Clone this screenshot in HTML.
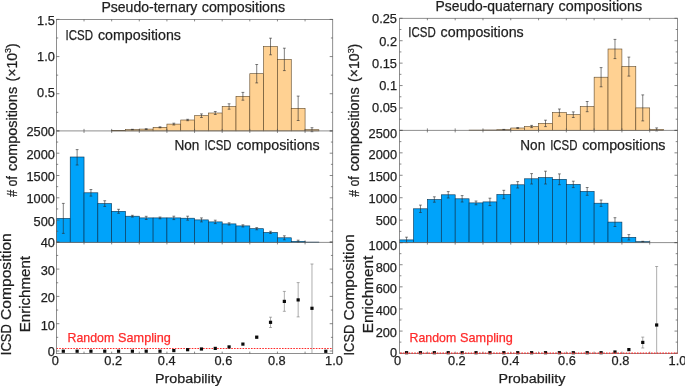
<!DOCTYPE html>
<html><head><meta charset="utf-8"><title>Composition probability histograms</title>
<style>
html,body{margin:0;padding:0;background:#fff;}
svg{display:block;font-family:"Liberation Sans",sans-serif;filter:blur(0.3px);}
</style></head><body>
<svg width="685" height="386" viewBox="0 0 685 386">
<rect width="685" height="386" fill="#fff"/>
<rect x="111.66" y="130.30" width="13.82" height="0.60" fill="#ffd192" stroke="#5c4628" stroke-width="0.6"/>
<rect x="125.47" y="129.60" width="13.82" height="1.30" fill="#ffd192" stroke="#5c4628" stroke-width="0.6"/>
<rect x="139.29" y="129.10" width="13.82" height="1.80" fill="#ffd192" stroke="#5c4628" stroke-width="0.6"/>
<rect x="153.11" y="127.30" width="13.82" height="3.60" fill="#ffd192" stroke="#5c4628" stroke-width="0.6"/>
<rect x="166.92" y="124.10" width="13.82" height="6.80" fill="#ffd192" stroke="#5c4628" stroke-width="0.6"/>
<rect x="180.74" y="120.00" width="13.82" height="10.90" fill="#ffd192" stroke="#5c4628" stroke-width="0.6"/>
<rect x="194.55" y="115.70" width="13.82" height="15.20" fill="#ffd192" stroke="#5c4628" stroke-width="0.6"/>
<rect x="208.37" y="113.00" width="13.82" height="17.90" fill="#ffd192" stroke="#5c4628" stroke-width="0.6"/>
<rect x="222.18" y="106.50" width="13.82" height="24.40" fill="#ffd192" stroke="#5c4628" stroke-width="0.6"/>
<rect x="236.00" y="96.30" width="13.82" height="34.60" fill="#ffd192" stroke="#5c4628" stroke-width="0.6"/>
<rect x="249.81" y="73.70" width="13.82" height="57.20" fill="#ffd192" stroke="#5c4628" stroke-width="0.6"/>
<rect x="263.62" y="46.50" width="13.82" height="84.40" fill="#ffd192" stroke="#5c4628" stroke-width="0.6"/>
<rect x="277.44" y="59.40" width="13.82" height="71.50" fill="#ffd192" stroke="#5c4628" stroke-width="0.6"/>
<rect x="291.25" y="108.30" width="13.82" height="22.60" fill="#ffd192" stroke="#5c4628" stroke-width="0.6"/>
<rect x="305.07" y="129.70" width="13.82" height="1.20" fill="#ffd192" stroke="#5c4628" stroke-width="0.6"/>
<line x1="132.38" y1="129.30" x2="132.38" y2="129.90" stroke="#2a2a2a" stroke-width="0.6" />
<line x1="130.98" y1="129.30" x2="133.78" y2="129.30" stroke="#2a2a2a" stroke-width="0.6" />
<line x1="130.98" y1="129.90" x2="133.78" y2="129.90" stroke="#2a2a2a" stroke-width="0.6" />
<line x1="146.20" y1="128.70" x2="146.20" y2="129.50" stroke="#2a2a2a" stroke-width="0.6" />
<line x1="144.80" y1="128.70" x2="147.60" y2="128.70" stroke="#2a2a2a" stroke-width="0.6" />
<line x1="144.80" y1="129.50" x2="147.60" y2="129.50" stroke="#2a2a2a" stroke-width="0.6" />
<line x1="160.01" y1="126.80" x2="160.01" y2="127.80" stroke="#2a2a2a" stroke-width="0.6" />
<line x1="158.61" y1="126.80" x2="161.41" y2="126.80" stroke="#2a2a2a" stroke-width="0.6" />
<line x1="158.61" y1="127.80" x2="161.41" y2="127.80" stroke="#2a2a2a" stroke-width="0.6" />
<line x1="173.83" y1="123.20" x2="173.83" y2="125.00" stroke="#2a2a2a" stroke-width="0.6" />
<line x1="172.43" y1="123.20" x2="175.23" y2="123.20" stroke="#2a2a2a" stroke-width="0.6" />
<line x1="172.43" y1="125.00" x2="175.23" y2="125.00" stroke="#2a2a2a" stroke-width="0.6" />
<line x1="187.64" y1="119.30" x2="187.64" y2="120.70" stroke="#2a2a2a" stroke-width="0.6" />
<line x1="186.24" y1="119.30" x2="189.04" y2="119.30" stroke="#2a2a2a" stroke-width="0.6" />
<line x1="186.24" y1="120.70" x2="189.04" y2="120.70" stroke="#2a2a2a" stroke-width="0.6" />
<line x1="201.46" y1="113.90" x2="201.46" y2="117.50" stroke="#2a2a2a" stroke-width="0.6" />
<line x1="200.06" y1="113.90" x2="202.86" y2="113.90" stroke="#2a2a2a" stroke-width="0.6" />
<line x1="200.06" y1="117.50" x2="202.86" y2="117.50" stroke="#2a2a2a" stroke-width="0.6" />
<line x1="215.27" y1="111.50" x2="215.27" y2="114.50" stroke="#2a2a2a" stroke-width="0.6" />
<line x1="213.87" y1="111.50" x2="216.67" y2="111.50" stroke="#2a2a2a" stroke-width="0.6" />
<line x1="213.87" y1="114.50" x2="216.67" y2="114.50" stroke="#2a2a2a" stroke-width="0.6" />
<line x1="229.09" y1="103.80" x2="229.09" y2="109.20" stroke="#2a2a2a" stroke-width="0.6" />
<line x1="227.69" y1="103.80" x2="230.49" y2="103.80" stroke="#2a2a2a" stroke-width="0.6" />
<line x1="227.69" y1="109.20" x2="230.49" y2="109.20" stroke="#2a2a2a" stroke-width="0.6" />
<line x1="242.90" y1="92.40" x2="242.90" y2="100.20" stroke="#2a2a2a" stroke-width="0.6" />
<line x1="241.50" y1="92.40" x2="244.30" y2="92.40" stroke="#2a2a2a" stroke-width="0.6" />
<line x1="241.50" y1="100.20" x2="244.30" y2="100.20" stroke="#2a2a2a" stroke-width="0.6" />
<line x1="256.72" y1="64.50" x2="256.72" y2="82.90" stroke="#2a2a2a" stroke-width="0.6" />
<line x1="255.32" y1="64.50" x2="258.12" y2="64.50" stroke="#2a2a2a" stroke-width="0.6" />
<line x1="255.32" y1="82.90" x2="258.12" y2="82.90" stroke="#2a2a2a" stroke-width="0.6" />
<line x1="270.53" y1="38.20" x2="270.53" y2="54.80" stroke="#2a2a2a" stroke-width="0.6" />
<line x1="269.13" y1="38.20" x2="271.93" y2="38.20" stroke="#2a2a2a" stroke-width="0.6" />
<line x1="269.13" y1="54.80" x2="271.93" y2="54.80" stroke="#2a2a2a" stroke-width="0.6" />
<line x1="284.35" y1="48.20" x2="284.35" y2="70.60" stroke="#2a2a2a" stroke-width="0.6" />
<line x1="282.95" y1="48.20" x2="285.75" y2="48.20" stroke="#2a2a2a" stroke-width="0.6" />
<line x1="282.95" y1="70.60" x2="285.75" y2="70.60" stroke="#2a2a2a" stroke-width="0.6" />
<line x1="298.16" y1="96.10" x2="298.16" y2="120.50" stroke="#2a2a2a" stroke-width="0.6" />
<line x1="296.76" y1="96.10" x2="299.56" y2="96.10" stroke="#2a2a2a" stroke-width="0.6" />
<line x1="296.76" y1="120.50" x2="299.56" y2="120.50" stroke="#2a2a2a" stroke-width="0.6" />
<line x1="311.98" y1="127.70" x2="311.98" y2="131.70" stroke="#2a2a2a" stroke-width="0.6" />
<line x1="310.58" y1="127.70" x2="313.38" y2="127.70" stroke="#2a2a2a" stroke-width="0.6" />
<line x1="310.58" y1="131.70" x2="313.38" y2="131.70" stroke="#2a2a2a" stroke-width="0.6" />
<rect x="56.40" y="218.40" width="13.82" height="24.00" fill="#00a3fa" stroke="#06304f" stroke-width="0.6"/>
<rect x="70.22" y="157.00" width="13.82" height="85.40" fill="#00a3fa" stroke="#06304f" stroke-width="0.6"/>
<rect x="84.03" y="192.80" width="13.82" height="49.60" fill="#00a3fa" stroke="#06304f" stroke-width="0.6"/>
<rect x="97.84" y="203.60" width="13.82" height="38.80" fill="#00a3fa" stroke="#06304f" stroke-width="0.6"/>
<rect x="111.66" y="211.30" width="13.82" height="31.10" fill="#00a3fa" stroke="#06304f" stroke-width="0.6"/>
<rect x="125.47" y="216.20" width="13.82" height="26.20" fill="#00a3fa" stroke="#06304f" stroke-width="0.6"/>
<rect x="139.29" y="217.90" width="13.82" height="24.50" fill="#00a3fa" stroke="#06304f" stroke-width="0.6"/>
<rect x="153.11" y="217.90" width="13.82" height="24.50" fill="#00a3fa" stroke="#06304f" stroke-width="0.6"/>
<rect x="166.92" y="217.90" width="13.82" height="24.50" fill="#00a3fa" stroke="#06304f" stroke-width="0.6"/>
<rect x="180.74" y="218.20" width="13.82" height="24.20" fill="#00a3fa" stroke="#06304f" stroke-width="0.6"/>
<rect x="194.55" y="219.90" width="13.82" height="22.50" fill="#00a3fa" stroke="#06304f" stroke-width="0.6"/>
<rect x="208.37" y="221.90" width="13.82" height="20.50" fill="#00a3fa" stroke="#06304f" stroke-width="0.6"/>
<rect x="222.18" y="223.90" width="13.82" height="18.50" fill="#00a3fa" stroke="#06304f" stroke-width="0.6"/>
<rect x="236.00" y="225.90" width="13.82" height="16.50" fill="#00a3fa" stroke="#06304f" stroke-width="0.6"/>
<rect x="249.81" y="228.70" width="13.82" height="13.70" fill="#00a3fa" stroke="#06304f" stroke-width="0.6"/>
<rect x="263.62" y="232.40" width="13.82" height="10.00" fill="#00a3fa" stroke="#06304f" stroke-width="0.6"/>
<rect x="277.44" y="237.80" width="13.82" height="4.60" fill="#00a3fa" stroke="#06304f" stroke-width="0.6"/>
<rect x="291.25" y="241.30" width="13.82" height="1.10" fill="#00a3fa" stroke="#06304f" stroke-width="0.6"/>
<rect x="305.07" y="242.10" width="13.82" height="0.30" fill="#00a3fa" stroke="#06304f" stroke-width="0.6"/>
<line x1="63.31" y1="203.40" x2="63.31" y2="233.40" stroke="#2a2a2a" stroke-width="0.6" />
<line x1="61.91" y1="203.40" x2="64.71" y2="203.40" stroke="#2a2a2a" stroke-width="0.6" />
<line x1="61.91" y1="233.40" x2="64.71" y2="233.40" stroke="#2a2a2a" stroke-width="0.6" />
<line x1="77.12" y1="149.60" x2="77.12" y2="165.00" stroke="#2a2a2a" stroke-width="0.6" />
<line x1="75.72" y1="149.60" x2="78.52" y2="149.60" stroke="#2a2a2a" stroke-width="0.6" />
<line x1="75.72" y1="165.00" x2="78.52" y2="165.00" stroke="#2a2a2a" stroke-width="0.6" />
<line x1="90.94" y1="189.50" x2="90.94" y2="196.10" stroke="#2a2a2a" stroke-width="0.6" />
<line x1="89.54" y1="189.50" x2="92.34" y2="189.50" stroke="#2a2a2a" stroke-width="0.6" />
<line x1="89.54" y1="196.10" x2="92.34" y2="196.10" stroke="#2a2a2a" stroke-width="0.6" />
<line x1="104.75" y1="200.75" x2="104.75" y2="206.45" stroke="#2a2a2a" stroke-width="0.6" />
<line x1="103.35" y1="200.75" x2="106.15" y2="200.75" stroke="#2a2a2a" stroke-width="0.6" />
<line x1="103.35" y1="206.45" x2="106.15" y2="206.45" stroke="#2a2a2a" stroke-width="0.6" />
<line x1="118.57" y1="209.30" x2="118.57" y2="213.30" stroke="#2a2a2a" stroke-width="0.6" />
<line x1="117.17" y1="209.30" x2="119.97" y2="209.30" stroke="#2a2a2a" stroke-width="0.6" />
<line x1="117.17" y1="213.30" x2="119.97" y2="213.30" stroke="#2a2a2a" stroke-width="0.6" />
<line x1="132.38" y1="215.30" x2="132.38" y2="217.10" stroke="#2a2a2a" stroke-width="0.6" />
<line x1="130.98" y1="215.30" x2="133.78" y2="215.30" stroke="#2a2a2a" stroke-width="0.6" />
<line x1="130.98" y1="217.10" x2="133.78" y2="217.10" stroke="#2a2a2a" stroke-width="0.6" />
<line x1="146.20" y1="216.30" x2="146.20" y2="219.50" stroke="#2a2a2a" stroke-width="0.6" />
<line x1="144.80" y1="216.30" x2="147.60" y2="216.30" stroke="#2a2a2a" stroke-width="0.6" />
<line x1="144.80" y1="219.50" x2="147.60" y2="219.50" stroke="#2a2a2a" stroke-width="0.6" />
<line x1="160.01" y1="217.00" x2="160.01" y2="218.80" stroke="#2a2a2a" stroke-width="0.6" />
<line x1="158.61" y1="217.00" x2="161.41" y2="217.00" stroke="#2a2a2a" stroke-width="0.6" />
<line x1="158.61" y1="218.80" x2="161.41" y2="218.80" stroke="#2a2a2a" stroke-width="0.6" />
<line x1="173.83" y1="216.20" x2="173.83" y2="219.60" stroke="#2a2a2a" stroke-width="0.6" />
<line x1="172.43" y1="216.20" x2="175.23" y2="216.20" stroke="#2a2a2a" stroke-width="0.6" />
<line x1="172.43" y1="219.60" x2="175.23" y2="219.60" stroke="#2a2a2a" stroke-width="0.6" />
<line x1="187.64" y1="216.20" x2="187.64" y2="220.20" stroke="#2a2a2a" stroke-width="0.6" />
<line x1="186.24" y1="216.20" x2="189.04" y2="216.20" stroke="#2a2a2a" stroke-width="0.6" />
<line x1="186.24" y1="220.20" x2="189.04" y2="220.20" stroke="#2a2a2a" stroke-width="0.6" />
<line x1="201.46" y1="217.90" x2="201.46" y2="221.90" stroke="#2a2a2a" stroke-width="0.6" />
<line x1="200.06" y1="217.90" x2="202.86" y2="217.90" stroke="#2a2a2a" stroke-width="0.6" />
<line x1="200.06" y1="221.90" x2="202.86" y2="221.90" stroke="#2a2a2a" stroke-width="0.6" />
<line x1="215.27" y1="220.20" x2="215.27" y2="223.60" stroke="#2a2a2a" stroke-width="0.6" />
<line x1="213.87" y1="220.20" x2="216.67" y2="220.20" stroke="#2a2a2a" stroke-width="0.6" />
<line x1="213.87" y1="223.60" x2="216.67" y2="223.60" stroke="#2a2a2a" stroke-width="0.6" />
<line x1="229.09" y1="222.80" x2="229.09" y2="225.00" stroke="#2a2a2a" stroke-width="0.6" />
<line x1="227.69" y1="222.80" x2="230.49" y2="222.80" stroke="#2a2a2a" stroke-width="0.6" />
<line x1="227.69" y1="225.00" x2="230.49" y2="225.00" stroke="#2a2a2a" stroke-width="0.6" />
<line x1="242.90" y1="224.80" x2="242.90" y2="227.00" stroke="#2a2a2a" stroke-width="0.6" />
<line x1="241.50" y1="224.80" x2="244.30" y2="224.80" stroke="#2a2a2a" stroke-width="0.6" />
<line x1="241.50" y1="227.00" x2="244.30" y2="227.00" stroke="#2a2a2a" stroke-width="0.6" />
<line x1="256.72" y1="227.60" x2="256.72" y2="229.80" stroke="#2a2a2a" stroke-width="0.6" />
<line x1="255.32" y1="227.60" x2="258.12" y2="227.60" stroke="#2a2a2a" stroke-width="0.6" />
<line x1="255.32" y1="229.80" x2="258.12" y2="229.80" stroke="#2a2a2a" stroke-width="0.6" />
<line x1="270.53" y1="231.30" x2="270.53" y2="233.50" stroke="#2a2a2a" stroke-width="0.6" />
<line x1="269.13" y1="231.30" x2="271.93" y2="231.30" stroke="#2a2a2a" stroke-width="0.6" />
<line x1="269.13" y1="233.50" x2="271.93" y2="233.50" stroke="#2a2a2a" stroke-width="0.6" />
<line x1="284.35" y1="235.80" x2="284.35" y2="239.80" stroke="#2a2a2a" stroke-width="0.6" />
<line x1="282.95" y1="235.80" x2="285.75" y2="235.80" stroke="#2a2a2a" stroke-width="0.6" />
<line x1="282.95" y1="239.80" x2="285.75" y2="239.80" stroke="#2a2a2a" stroke-width="0.6" />
<line x1="298.16" y1="240.20" x2="298.16" y2="242.40" stroke="#2a2a2a" stroke-width="0.6" />
<line x1="296.76" y1="240.20" x2="299.56" y2="240.20" stroke="#2a2a2a" stroke-width="0.6" />
<line x1="296.76" y1="242.40" x2="299.56" y2="242.40" stroke="#2a2a2a" stroke-width="0.6" />
<line x1="56.40" y1="348.50" x2="332.70" y2="348.50" stroke="#ff2a2a" stroke-width="1.1" stroke-dasharray="1.6 1.22"/>
<line x1="256.72" y1="336.20" x2="256.72" y2="338.00" stroke="#777" stroke-width="0.6" />
<line x1="255.22" y1="336.20" x2="258.22" y2="336.20" stroke="#777" stroke-width="0.6" />
<line x1="255.22" y1="338.00" x2="258.22" y2="338.00" stroke="#777" stroke-width="0.6" />
<line x1="270.53" y1="317.20" x2="270.53" y2="327.50" stroke="#777" stroke-width="0.6" />
<line x1="269.03" y1="317.20" x2="272.03" y2="317.20" stroke="#777" stroke-width="0.6" />
<line x1="269.03" y1="327.50" x2="272.03" y2="327.50" stroke="#777" stroke-width="0.6" />
<line x1="284.35" y1="291.40" x2="284.35" y2="311.30" stroke="#777" stroke-width="0.6" />
<line x1="282.85" y1="291.40" x2="285.85" y2="291.40" stroke="#777" stroke-width="0.6" />
<line x1="282.85" y1="311.30" x2="285.85" y2="311.30" stroke="#777" stroke-width="0.6" />
<line x1="298.16" y1="282.60" x2="298.16" y2="316.90" stroke="#777" stroke-width="0.6" />
<line x1="296.66" y1="282.60" x2="299.66" y2="282.60" stroke="#777" stroke-width="0.6" />
<line x1="296.66" y1="316.90" x2="299.66" y2="316.90" stroke="#777" stroke-width="0.6" />
<line x1="311.98" y1="264.00" x2="311.98" y2="353.00" stroke="#777" stroke-width="0.6" />
<line x1="310.48" y1="264.00" x2="313.48" y2="264.00" stroke="#777" stroke-width="0.6" />
<rect x="61.71" y="349.60" width="3.2" height="3.2" fill="#0a0a0a"/>
<rect x="75.52" y="349.60" width="3.2" height="3.2" fill="#0a0a0a"/>
<rect x="89.34" y="349.60" width="3.2" height="3.2" fill="#0a0a0a"/>
<rect x="103.15" y="349.60" width="3.2" height="3.2" fill="#0a0a0a"/>
<rect x="116.97" y="349.60" width="3.2" height="3.2" fill="#0a0a0a"/>
<rect x="130.78" y="349.60" width="3.2" height="3.2" fill="#0a0a0a"/>
<rect x="144.60" y="349.60" width="3.2" height="3.2" fill="#0a0a0a"/>
<rect x="158.41" y="349.60" width="3.2" height="3.2" fill="#0a0a0a"/>
<rect x="172.23" y="349.00" width="3.2" height="3.2" fill="#0a0a0a"/>
<rect x="186.04" y="348.10" width="3.2" height="3.2" fill="#0a0a0a"/>
<rect x="199.86" y="347.40" width="3.2" height="3.2" fill="#0a0a0a"/>
<rect x="213.67" y="346.80" width="3.2" height="3.2" fill="#0a0a0a"/>
<rect x="227.49" y="345.30" width="3.2" height="3.2" fill="#0a0a0a"/>
<rect x="241.30" y="342.50" width="3.2" height="3.2" fill="#0a0a0a"/>
<rect x="255.12" y="335.60" width="3.2" height="3.2" fill="#0a0a0a"/>
<rect x="268.93" y="320.70" width="3.2" height="3.2" fill="#0a0a0a"/>
<rect x="282.75" y="299.80" width="3.2" height="3.2" fill="#0a0a0a"/>
<rect x="296.56" y="298.30" width="3.2" height="3.2" fill="#0a0a0a"/>
<rect x="310.38" y="306.70" width="3.2" height="3.2" fill="#0a0a0a"/>
<rect x="324.19" y="349.70" width="3.2" height="3.2" fill="#0a0a0a"/>
<rect x="56.40" y="19.40" width="276.30" height="334.20" fill="none" stroke="#727272" stroke-width="0.8"/>
<line x1="56.40" y1="130.90" x2="332.70" y2="130.90" stroke="#727272" stroke-width="0.8" />
<line x1="56.40" y1="242.40" x2="332.70" y2="242.40" stroke="#727272" stroke-width="0.8" />
<line x1="84.03" y1="19.40" x2="84.03" y2="21.40" stroke="#555" stroke-width="0.7" />
<line x1="84.03" y1="128.90" x2="84.03" y2="132.90" stroke="#555" stroke-width="0.7" />
<line x1="84.03" y1="240.40" x2="84.03" y2="244.40" stroke="#555" stroke-width="0.7" />
<line x1="84.03" y1="351.60" x2="84.03" y2="353.60" stroke="#555" stroke-width="0.7" />
<line x1="111.66" y1="19.40" x2="111.66" y2="21.40" stroke="#555" stroke-width="0.7" />
<line x1="111.66" y1="128.90" x2="111.66" y2="132.90" stroke="#555" stroke-width="0.7" />
<line x1="111.66" y1="240.40" x2="111.66" y2="244.40" stroke="#555" stroke-width="0.7" />
<line x1="111.66" y1="351.60" x2="111.66" y2="353.60" stroke="#555" stroke-width="0.7" />
<line x1="139.29" y1="19.40" x2="139.29" y2="21.40" stroke="#555" stroke-width="0.7" />
<line x1="139.29" y1="128.90" x2="139.29" y2="132.90" stroke="#555" stroke-width="0.7" />
<line x1="139.29" y1="240.40" x2="139.29" y2="244.40" stroke="#555" stroke-width="0.7" />
<line x1="139.29" y1="351.60" x2="139.29" y2="353.60" stroke="#555" stroke-width="0.7" />
<line x1="166.92" y1="19.40" x2="166.92" y2="21.40" stroke="#555" stroke-width="0.7" />
<line x1="166.92" y1="128.90" x2="166.92" y2="132.90" stroke="#555" stroke-width="0.7" />
<line x1="166.92" y1="240.40" x2="166.92" y2="244.40" stroke="#555" stroke-width="0.7" />
<line x1="166.92" y1="351.60" x2="166.92" y2="353.60" stroke="#555" stroke-width="0.7" />
<line x1="194.55" y1="19.40" x2="194.55" y2="21.40" stroke="#555" stroke-width="0.7" />
<line x1="194.55" y1="128.90" x2="194.55" y2="132.90" stroke="#555" stroke-width="0.7" />
<line x1="194.55" y1="240.40" x2="194.55" y2="244.40" stroke="#555" stroke-width="0.7" />
<line x1="194.55" y1="351.60" x2="194.55" y2="353.60" stroke="#555" stroke-width="0.7" />
<line x1="222.18" y1="19.40" x2="222.18" y2="21.40" stroke="#555" stroke-width="0.7" />
<line x1="222.18" y1="128.90" x2="222.18" y2="132.90" stroke="#555" stroke-width="0.7" />
<line x1="222.18" y1="240.40" x2="222.18" y2="244.40" stroke="#555" stroke-width="0.7" />
<line x1="222.18" y1="351.60" x2="222.18" y2="353.60" stroke="#555" stroke-width="0.7" />
<line x1="249.81" y1="19.40" x2="249.81" y2="21.40" stroke="#555" stroke-width="0.7" />
<line x1="249.81" y1="128.90" x2="249.81" y2="132.90" stroke="#555" stroke-width="0.7" />
<line x1="249.81" y1="240.40" x2="249.81" y2="244.40" stroke="#555" stroke-width="0.7" />
<line x1="249.81" y1="351.60" x2="249.81" y2="353.60" stroke="#555" stroke-width="0.7" />
<line x1="277.44" y1="19.40" x2="277.44" y2="21.40" stroke="#555" stroke-width="0.7" />
<line x1="277.44" y1="128.90" x2="277.44" y2="132.90" stroke="#555" stroke-width="0.7" />
<line x1="277.44" y1="240.40" x2="277.44" y2="244.40" stroke="#555" stroke-width="0.7" />
<line x1="277.44" y1="351.60" x2="277.44" y2="353.60" stroke="#555" stroke-width="0.7" />
<line x1="305.07" y1="19.40" x2="305.07" y2="21.40" stroke="#555" stroke-width="0.7" />
<line x1="305.07" y1="128.90" x2="305.07" y2="132.90" stroke="#555" stroke-width="0.7" />
<line x1="305.07" y1="240.40" x2="305.07" y2="244.40" stroke="#555" stroke-width="0.7" />
<line x1="305.07" y1="351.60" x2="305.07" y2="353.60" stroke="#555" stroke-width="0.7" />
<line x1="56.40" y1="19.40" x2="59.40" y2="19.40" stroke="#555" stroke-width="0.7" />
<line x1="329.70" y1="19.40" x2="332.70" y2="19.40" stroke="#555" stroke-width="0.7" />
<line x1="56.40" y1="37.98" x2="58.20" y2="37.98" stroke="#555" stroke-width="0.7" />
<line x1="330.90" y1="37.98" x2="332.70" y2="37.98" stroke="#555" stroke-width="0.7" />
<line x1="56.40" y1="56.57" x2="59.40" y2="56.57" stroke="#555" stroke-width="0.7" />
<line x1="329.70" y1="56.57" x2="332.70" y2="56.57" stroke="#555" stroke-width="0.7" />
<line x1="56.40" y1="75.15" x2="58.20" y2="75.15" stroke="#555" stroke-width="0.7" />
<line x1="330.90" y1="75.15" x2="332.70" y2="75.15" stroke="#555" stroke-width="0.7" />
<line x1="56.40" y1="93.73" x2="59.40" y2="93.73" stroke="#555" stroke-width="0.7" />
<line x1="329.70" y1="93.73" x2="332.70" y2="93.73" stroke="#555" stroke-width="0.7" />
<line x1="56.40" y1="112.32" x2="58.20" y2="112.32" stroke="#555" stroke-width="0.7" />
<line x1="330.90" y1="112.32" x2="332.70" y2="112.32" stroke="#555" stroke-width="0.7" />
<line x1="56.40" y1="130.90" x2="59.40" y2="130.90" stroke="#555" stroke-width="0.7" />
<line x1="329.70" y1="130.90" x2="332.70" y2="130.90" stroke="#555" stroke-width="0.7" />
<line x1="56.40" y1="130.90" x2="59.40" y2="130.90" stroke="#555" stroke-width="0.7" />
<line x1="329.70" y1="130.90" x2="332.70" y2="130.90" stroke="#555" stroke-width="0.7" />
<line x1="56.40" y1="142.05" x2="58.20" y2="142.05" stroke="#555" stroke-width="0.7" />
<line x1="330.90" y1="142.05" x2="332.70" y2="142.05" stroke="#555" stroke-width="0.7" />
<line x1="56.40" y1="153.20" x2="59.40" y2="153.20" stroke="#555" stroke-width="0.7" />
<line x1="329.70" y1="153.20" x2="332.70" y2="153.20" stroke="#555" stroke-width="0.7" />
<line x1="56.40" y1="164.35" x2="58.20" y2="164.35" stroke="#555" stroke-width="0.7" />
<line x1="330.90" y1="164.35" x2="332.70" y2="164.35" stroke="#555" stroke-width="0.7" />
<line x1="56.40" y1="175.50" x2="59.40" y2="175.50" stroke="#555" stroke-width="0.7" />
<line x1="329.70" y1="175.50" x2="332.70" y2="175.50" stroke="#555" stroke-width="0.7" />
<line x1="56.40" y1="186.65" x2="58.20" y2="186.65" stroke="#555" stroke-width="0.7" />
<line x1="330.90" y1="186.65" x2="332.70" y2="186.65" stroke="#555" stroke-width="0.7" />
<line x1="56.40" y1="197.80" x2="59.40" y2="197.80" stroke="#555" stroke-width="0.7" />
<line x1="329.70" y1="197.80" x2="332.70" y2="197.80" stroke="#555" stroke-width="0.7" />
<line x1="56.40" y1="208.95" x2="58.20" y2="208.95" stroke="#555" stroke-width="0.7" />
<line x1="330.90" y1="208.95" x2="332.70" y2="208.95" stroke="#555" stroke-width="0.7" />
<line x1="56.40" y1="220.10" x2="59.40" y2="220.10" stroke="#555" stroke-width="0.7" />
<line x1="329.70" y1="220.10" x2="332.70" y2="220.10" stroke="#555" stroke-width="0.7" />
<line x1="56.40" y1="231.25" x2="58.20" y2="231.25" stroke="#555" stroke-width="0.7" />
<line x1="330.90" y1="231.25" x2="332.70" y2="231.25" stroke="#555" stroke-width="0.7" />
<line x1="56.40" y1="242.40" x2="59.40" y2="242.40" stroke="#555" stroke-width="0.7" />
<line x1="329.70" y1="242.40" x2="332.70" y2="242.40" stroke="#555" stroke-width="0.7" />
<line x1="56.40" y1="241.80" x2="59.40" y2="241.80" stroke="#555" stroke-width="0.7" />
<line x1="329.70" y1="241.80" x2="332.70" y2="241.80" stroke="#555" stroke-width="0.7" />
<line x1="56.40" y1="255.45" x2="58.20" y2="255.45" stroke="#555" stroke-width="0.7" />
<line x1="330.90" y1="255.45" x2="332.70" y2="255.45" stroke="#555" stroke-width="0.7" />
<line x1="56.40" y1="269.10" x2="59.40" y2="269.10" stroke="#555" stroke-width="0.7" />
<line x1="329.70" y1="269.10" x2="332.70" y2="269.10" stroke="#555" stroke-width="0.7" />
<line x1="56.40" y1="282.75" x2="58.20" y2="282.75" stroke="#555" stroke-width="0.7" />
<line x1="330.90" y1="282.75" x2="332.70" y2="282.75" stroke="#555" stroke-width="0.7" />
<line x1="56.40" y1="296.40" x2="59.40" y2="296.40" stroke="#555" stroke-width="0.7" />
<line x1="329.70" y1="296.40" x2="332.70" y2="296.40" stroke="#555" stroke-width="0.7" />
<line x1="56.40" y1="310.05" x2="58.20" y2="310.05" stroke="#555" stroke-width="0.7" />
<line x1="330.90" y1="310.05" x2="332.70" y2="310.05" stroke="#555" stroke-width="0.7" />
<line x1="56.40" y1="323.70" x2="59.40" y2="323.70" stroke="#555" stroke-width="0.7" />
<line x1="329.70" y1="323.70" x2="332.70" y2="323.70" stroke="#555" stroke-width="0.7" />
<line x1="56.40" y1="337.35" x2="58.20" y2="337.35" stroke="#555" stroke-width="0.7" />
<line x1="330.90" y1="337.35" x2="332.70" y2="337.35" stroke="#555" stroke-width="0.7" />
<line x1="56.40" y1="351.00" x2="59.40" y2="351.00" stroke="#555" stroke-width="0.7" />
<line x1="329.70" y1="351.00" x2="332.70" y2="351.00" stroke="#555" stroke-width="0.7" />
<rect x="469.08" y="130.10" width="13.89" height="0.30" fill="#ffd192" stroke="#5c4628" stroke-width="0.6"/>
<rect x="482.97" y="130.00" width="13.89" height="0.40" fill="#ffd192" stroke="#5c4628" stroke-width="0.6"/>
<rect x="496.87" y="129.70" width="13.89" height="0.70" fill="#ffd192" stroke="#5c4628" stroke-width="0.6"/>
<rect x="510.76" y="128.00" width="13.89" height="2.40" fill="#ffd192" stroke="#5c4628" stroke-width="0.6"/>
<rect x="524.65" y="126.50" width="13.89" height="3.90" fill="#ffd192" stroke="#5c4628" stroke-width="0.6"/>
<rect x="538.55" y="123.40" width="13.89" height="7.00" fill="#ffd192" stroke="#5c4628" stroke-width="0.6"/>
<rect x="552.45" y="112.60" width="13.89" height="17.80" fill="#ffd192" stroke="#5c4628" stroke-width="0.6"/>
<rect x="566.34" y="114.70" width="13.89" height="15.70" fill="#ffd192" stroke="#5c4628" stroke-width="0.6"/>
<rect x="580.24" y="106.60" width="13.89" height="23.80" fill="#ffd192" stroke="#5c4628" stroke-width="0.6"/>
<rect x="594.13" y="77.20" width="13.89" height="53.20" fill="#ffd192" stroke="#5c4628" stroke-width="0.6"/>
<rect x="608.02" y="49.00" width="13.89" height="81.40" fill="#ffd192" stroke="#5c4628" stroke-width="0.6"/>
<rect x="621.92" y="66.60" width="13.89" height="63.80" fill="#ffd192" stroke="#5c4628" stroke-width="0.6"/>
<rect x="635.82" y="107.90" width="13.89" height="22.50" fill="#ffd192" stroke="#5c4628" stroke-width="0.6"/>
<rect x="649.71" y="129.40" width="13.89" height="1.00" fill="#ffd192" stroke="#5c4628" stroke-width="0.6"/>
<line x1="503.81" y1="129.40" x2="503.81" y2="130.00" stroke="#2a2a2a" stroke-width="0.6" />
<line x1="502.41" y1="129.40" x2="505.21" y2="129.40" stroke="#2a2a2a" stroke-width="0.6" />
<line x1="502.41" y1="130.00" x2="505.21" y2="130.00" stroke="#2a2a2a" stroke-width="0.6" />
<line x1="517.71" y1="127.50" x2="517.71" y2="128.50" stroke="#2a2a2a" stroke-width="0.6" />
<line x1="516.31" y1="127.50" x2="519.11" y2="127.50" stroke="#2a2a2a" stroke-width="0.6" />
<line x1="516.31" y1="128.50" x2="519.11" y2="128.50" stroke="#2a2a2a" stroke-width="0.6" />
<line x1="531.60" y1="125.40" x2="531.60" y2="127.60" stroke="#2a2a2a" stroke-width="0.6" />
<line x1="530.20" y1="125.40" x2="533.00" y2="125.40" stroke="#2a2a2a" stroke-width="0.6" />
<line x1="530.20" y1="127.60" x2="533.00" y2="127.60" stroke="#2a2a2a" stroke-width="0.6" />
<line x1="545.50" y1="120.20" x2="545.50" y2="126.60" stroke="#2a2a2a" stroke-width="0.6" />
<line x1="544.10" y1="120.20" x2="546.90" y2="120.20" stroke="#2a2a2a" stroke-width="0.6" />
<line x1="544.10" y1="126.60" x2="546.90" y2="126.60" stroke="#2a2a2a" stroke-width="0.6" />
<line x1="559.39" y1="109.00" x2="559.39" y2="116.20" stroke="#2a2a2a" stroke-width="0.6" />
<line x1="557.99" y1="109.00" x2="560.79" y2="109.00" stroke="#2a2a2a" stroke-width="0.6" />
<line x1="557.99" y1="116.20" x2="560.79" y2="116.20" stroke="#2a2a2a" stroke-width="0.6" />
<line x1="573.29" y1="111.90" x2="573.29" y2="117.50" stroke="#2a2a2a" stroke-width="0.6" />
<line x1="571.89" y1="111.90" x2="574.69" y2="111.90" stroke="#2a2a2a" stroke-width="0.6" />
<line x1="571.89" y1="117.50" x2="574.69" y2="117.50" stroke="#2a2a2a" stroke-width="0.6" />
<line x1="587.18" y1="101.50" x2="587.18" y2="111.70" stroke="#2a2a2a" stroke-width="0.6" />
<line x1="585.78" y1="101.50" x2="588.58" y2="101.50" stroke="#2a2a2a" stroke-width="0.6" />
<line x1="585.78" y1="111.70" x2="588.58" y2="111.70" stroke="#2a2a2a" stroke-width="0.6" />
<line x1="601.08" y1="67.60" x2="601.08" y2="86.80" stroke="#2a2a2a" stroke-width="0.6" />
<line x1="599.68" y1="67.60" x2="602.48" y2="67.60" stroke="#2a2a2a" stroke-width="0.6" />
<line x1="599.68" y1="86.80" x2="602.48" y2="86.80" stroke="#2a2a2a" stroke-width="0.6" />
<line x1="614.97" y1="39.40" x2="614.97" y2="58.60" stroke="#2a2a2a" stroke-width="0.6" />
<line x1="613.57" y1="39.40" x2="616.37" y2="39.40" stroke="#2a2a2a" stroke-width="0.6" />
<line x1="613.57" y1="58.60" x2="616.37" y2="58.60" stroke="#2a2a2a" stroke-width="0.6" />
<line x1="628.87" y1="57.10" x2="628.87" y2="76.10" stroke="#2a2a2a" stroke-width="0.6" />
<line x1="627.47" y1="57.10" x2="630.27" y2="57.10" stroke="#2a2a2a" stroke-width="0.6" />
<line x1="627.47" y1="76.10" x2="630.27" y2="76.10" stroke="#2a2a2a" stroke-width="0.6" />
<line x1="642.76" y1="94.90" x2="642.76" y2="120.90" stroke="#2a2a2a" stroke-width="0.6" />
<line x1="641.36" y1="94.90" x2="644.16" y2="94.90" stroke="#2a2a2a" stroke-width="0.6" />
<line x1="641.36" y1="120.90" x2="644.16" y2="120.90" stroke="#2a2a2a" stroke-width="0.6" />
<line x1="656.66" y1="127.90" x2="656.66" y2="130.90" stroke="#2a2a2a" stroke-width="0.6" />
<line x1="655.26" y1="127.90" x2="658.06" y2="127.90" stroke="#2a2a2a" stroke-width="0.6" />
<line x1="655.26" y1="130.90" x2="658.06" y2="130.90" stroke="#2a2a2a" stroke-width="0.6" />
<rect x="399.60" y="239.90" width="13.89" height="2.70" fill="#00a3fa" stroke="#06304f" stroke-width="0.6"/>
<rect x="413.50" y="208.80" width="13.89" height="33.80" fill="#00a3fa" stroke="#06304f" stroke-width="0.6"/>
<rect x="427.39" y="199.50" width="13.89" height="43.10" fill="#00a3fa" stroke="#06304f" stroke-width="0.6"/>
<rect x="441.29" y="194.80" width="13.89" height="47.80" fill="#00a3fa" stroke="#06304f" stroke-width="0.6"/>
<rect x="455.18" y="198.80" width="13.89" height="43.80" fill="#00a3fa" stroke="#06304f" stroke-width="0.6"/>
<rect x="469.08" y="202.90" width="13.89" height="39.70" fill="#00a3fa" stroke="#06304f" stroke-width="0.6"/>
<rect x="482.97" y="201.90" width="13.89" height="40.70" fill="#00a3fa" stroke="#06304f" stroke-width="0.6"/>
<rect x="496.87" y="194.50" width="13.89" height="48.10" fill="#00a3fa" stroke="#06304f" stroke-width="0.6"/>
<rect x="510.76" y="184.80" width="13.89" height="57.80" fill="#00a3fa" stroke="#06304f" stroke-width="0.6"/>
<rect x="524.65" y="178.80" width="13.89" height="63.80" fill="#00a3fa" stroke="#06304f" stroke-width="0.6"/>
<rect x="538.55" y="177.60" width="13.89" height="65.00" fill="#00a3fa" stroke="#06304f" stroke-width="0.6"/>
<rect x="552.45" y="179.30" width="13.89" height="63.30" fill="#00a3fa" stroke="#06304f" stroke-width="0.6"/>
<rect x="566.34" y="184.40" width="13.89" height="58.20" fill="#00a3fa" stroke="#06304f" stroke-width="0.6"/>
<rect x="580.24" y="191.40" width="13.89" height="51.20" fill="#00a3fa" stroke="#06304f" stroke-width="0.6"/>
<rect x="594.13" y="203.20" width="13.89" height="39.40" fill="#00a3fa" stroke="#06304f" stroke-width="0.6"/>
<rect x="608.02" y="222.10" width="13.89" height="20.50" fill="#00a3fa" stroke="#06304f" stroke-width="0.6"/>
<rect x="621.92" y="237.30" width="13.89" height="5.30" fill="#00a3fa" stroke="#06304f" stroke-width="0.6"/>
<rect x="635.82" y="241.70" width="13.89" height="0.90" fill="#00a3fa" stroke="#06304f" stroke-width="0.6"/>
<line x1="406.55" y1="237.20" x2="406.55" y2="242.60" stroke="#2a2a2a" stroke-width="0.6" />
<line x1="405.15" y1="237.20" x2="407.95" y2="237.20" stroke="#2a2a2a" stroke-width="0.6" />
<line x1="405.15" y1="242.60" x2="407.95" y2="242.60" stroke="#2a2a2a" stroke-width="0.6" />
<line x1="420.44" y1="205.10" x2="420.44" y2="212.50" stroke="#2a2a2a" stroke-width="0.6" />
<line x1="419.04" y1="205.10" x2="421.84" y2="205.10" stroke="#2a2a2a" stroke-width="0.6" />
<line x1="419.04" y1="212.50" x2="421.84" y2="212.50" stroke="#2a2a2a" stroke-width="0.6" />
<line x1="434.34" y1="196.80" x2="434.34" y2="202.20" stroke="#2a2a2a" stroke-width="0.6" />
<line x1="432.94" y1="196.80" x2="435.74" y2="196.80" stroke="#2a2a2a" stroke-width="0.6" />
<line x1="432.94" y1="202.20" x2="435.74" y2="202.20" stroke="#2a2a2a" stroke-width="0.6" />
<line x1="448.23" y1="191.60" x2="448.23" y2="198.00" stroke="#2a2a2a" stroke-width="0.6" />
<line x1="446.83" y1="191.60" x2="449.63" y2="191.60" stroke="#2a2a2a" stroke-width="0.6" />
<line x1="446.83" y1="198.00" x2="449.63" y2="198.00" stroke="#2a2a2a" stroke-width="0.6" />
<line x1="462.13" y1="195.60" x2="462.13" y2="202.00" stroke="#2a2a2a" stroke-width="0.6" />
<line x1="460.73" y1="195.60" x2="463.53" y2="195.60" stroke="#2a2a2a" stroke-width="0.6" />
<line x1="460.73" y1="202.00" x2="463.53" y2="202.00" stroke="#2a2a2a" stroke-width="0.6" />
<line x1="476.02" y1="201.00" x2="476.02" y2="204.80" stroke="#2a2a2a" stroke-width="0.6" />
<line x1="474.62" y1="201.00" x2="477.42" y2="201.00" stroke="#2a2a2a" stroke-width="0.6" />
<line x1="474.62" y1="204.80" x2="477.42" y2="204.80" stroke="#2a2a2a" stroke-width="0.6" />
<line x1="489.92" y1="198.20" x2="489.92" y2="205.60" stroke="#2a2a2a" stroke-width="0.6" />
<line x1="488.52" y1="198.20" x2="491.32" y2="198.20" stroke="#2a2a2a" stroke-width="0.6" />
<line x1="488.52" y1="205.60" x2="491.32" y2="205.60" stroke="#2a2a2a" stroke-width="0.6" />
<line x1="503.81" y1="190.30" x2="503.81" y2="198.70" stroke="#2a2a2a" stroke-width="0.6" />
<line x1="502.41" y1="190.30" x2="505.21" y2="190.30" stroke="#2a2a2a" stroke-width="0.6" />
<line x1="502.41" y1="198.70" x2="505.21" y2="198.70" stroke="#2a2a2a" stroke-width="0.6" />
<line x1="517.71" y1="181.60" x2="517.71" y2="188.00" stroke="#2a2a2a" stroke-width="0.6" />
<line x1="516.31" y1="181.60" x2="519.11" y2="181.60" stroke="#2a2a2a" stroke-width="0.6" />
<line x1="516.31" y1="188.00" x2="519.11" y2="188.00" stroke="#2a2a2a" stroke-width="0.6" />
<line x1="531.60" y1="173.60" x2="531.60" y2="184.00" stroke="#2a2a2a" stroke-width="0.6" />
<line x1="530.20" y1="173.60" x2="533.00" y2="173.60" stroke="#2a2a2a" stroke-width="0.6" />
<line x1="530.20" y1="184.00" x2="533.00" y2="184.00" stroke="#2a2a2a" stroke-width="0.6" />
<line x1="545.50" y1="171.20" x2="545.50" y2="184.00" stroke="#2a2a2a" stroke-width="0.6" />
<line x1="544.10" y1="171.20" x2="546.90" y2="171.20" stroke="#2a2a2a" stroke-width="0.6" />
<line x1="544.10" y1="184.00" x2="546.90" y2="184.00" stroke="#2a2a2a" stroke-width="0.6" />
<line x1="559.39" y1="173.90" x2="559.39" y2="184.70" stroke="#2a2a2a" stroke-width="0.6" />
<line x1="557.99" y1="173.90" x2="560.79" y2="173.90" stroke="#2a2a2a" stroke-width="0.6" />
<line x1="557.99" y1="184.70" x2="560.79" y2="184.70" stroke="#2a2a2a" stroke-width="0.6" />
<line x1="573.29" y1="181.20" x2="573.29" y2="187.60" stroke="#2a2a2a" stroke-width="0.6" />
<line x1="571.89" y1="181.20" x2="574.69" y2="181.20" stroke="#2a2a2a" stroke-width="0.6" />
<line x1="571.89" y1="187.60" x2="574.69" y2="187.60" stroke="#2a2a2a" stroke-width="0.6" />
<line x1="587.18" y1="187.50" x2="587.18" y2="195.30" stroke="#2a2a2a" stroke-width="0.6" />
<line x1="585.78" y1="187.50" x2="588.58" y2="187.50" stroke="#2a2a2a" stroke-width="0.6" />
<line x1="585.78" y1="195.30" x2="588.58" y2="195.30" stroke="#2a2a2a" stroke-width="0.6" />
<line x1="601.08" y1="200.00" x2="601.08" y2="206.40" stroke="#2a2a2a" stroke-width="0.6" />
<line x1="599.68" y1="200.00" x2="602.48" y2="200.00" stroke="#2a2a2a" stroke-width="0.6" />
<line x1="599.68" y1="206.40" x2="602.48" y2="206.40" stroke="#2a2a2a" stroke-width="0.6" />
<line x1="614.97" y1="217.70" x2="614.97" y2="226.50" stroke="#2a2a2a" stroke-width="0.6" />
<line x1="613.57" y1="217.70" x2="616.37" y2="217.70" stroke="#2a2a2a" stroke-width="0.6" />
<line x1="613.57" y1="226.50" x2="616.37" y2="226.50" stroke="#2a2a2a" stroke-width="0.6" />
<line x1="628.87" y1="234.60" x2="628.87" y2="240.00" stroke="#2a2a2a" stroke-width="0.6" />
<line x1="627.47" y1="234.60" x2="630.27" y2="234.60" stroke="#2a2a2a" stroke-width="0.6" />
<line x1="627.47" y1="240.00" x2="630.27" y2="240.00" stroke="#2a2a2a" stroke-width="0.6" />
<line x1="642.76" y1="241.30" x2="642.76" y2="242.10" stroke="#2a2a2a" stroke-width="0.6" />
<line x1="641.36" y1="241.30" x2="644.16" y2="241.30" stroke="#2a2a2a" stroke-width="0.6" />
<line x1="641.36" y1="242.10" x2="644.16" y2="242.10" stroke="#2a2a2a" stroke-width="0.6" />
<line x1="642.76" y1="337.10" x2="642.76" y2="348.00" stroke="#777" stroke-width="0.6" />
<line x1="641.26" y1="337.10" x2="644.26" y2="337.10" stroke="#777" stroke-width="0.6" />
<line x1="641.26" y1="348.00" x2="644.26" y2="348.00" stroke="#777" stroke-width="0.6" />
<line x1="656.66" y1="266.50" x2="656.66" y2="353.40" stroke="#777" stroke-width="0.6" />
<line x1="655.16" y1="266.50" x2="658.16" y2="266.50" stroke="#777" stroke-width="0.6" />
<rect x="404.95" y="351.10" width="3.2" height="3.2" fill="#0a0a0a"/>
<rect x="418.84" y="351.10" width="3.2" height="3.2" fill="#0a0a0a"/>
<rect x="432.74" y="351.10" width="3.2" height="3.2" fill="#0a0a0a"/>
<rect x="446.63" y="351.10" width="3.2" height="3.2" fill="#0a0a0a"/>
<rect x="460.53" y="351.10" width="3.2" height="3.2" fill="#0a0a0a"/>
<rect x="474.42" y="351.10" width="3.2" height="3.2" fill="#0a0a0a"/>
<rect x="488.32" y="351.10" width="3.2" height="3.2" fill="#0a0a0a"/>
<rect x="502.21" y="351.10" width="3.2" height="3.2" fill="#0a0a0a"/>
<rect x="516.11" y="351.10" width="3.2" height="3.2" fill="#0a0a0a"/>
<rect x="530.00" y="351.10" width="3.2" height="3.2" fill="#0a0a0a"/>
<rect x="543.90" y="351.10" width="3.2" height="3.2" fill="#0a0a0a"/>
<rect x="557.79" y="351.10" width="3.2" height="3.2" fill="#0a0a0a"/>
<rect x="571.69" y="351.10" width="3.2" height="3.2" fill="#0a0a0a"/>
<rect x="585.58" y="351.10" width="3.2" height="3.2" fill="#0a0a0a"/>
<rect x="599.48" y="351.10" width="3.2" height="3.2" fill="#0a0a0a"/>
<rect x="613.37" y="350.40" width="3.2" height="3.2" fill="#0a0a0a"/>
<rect x="627.27" y="348.00" width="3.2" height="3.2" fill="#0a0a0a"/>
<rect x="641.16" y="340.80" width="3.2" height="3.2" fill="#0a0a0a"/>
<rect x="655.06" y="323.40" width="3.2" height="3.2" fill="#0a0a0a"/>
<rect x="399.60" y="18.30" width="277.90" height="335.30" fill="none" stroke="#727272" stroke-width="0.8"/>
<line x1="399.60" y1="130.40" x2="677.50" y2="130.40" stroke="#727272" stroke-width="0.8" />
<line x1="399.60" y1="242.60" x2="677.50" y2="242.60" stroke="#727272" stroke-width="0.8" />
<line x1="427.39" y1="18.30" x2="427.39" y2="20.30" stroke="#555" stroke-width="0.7" />
<line x1="427.39" y1="128.40" x2="427.39" y2="132.40" stroke="#555" stroke-width="0.7" />
<line x1="427.39" y1="240.60" x2="427.39" y2="244.60" stroke="#555" stroke-width="0.7" />
<line x1="427.39" y1="351.60" x2="427.39" y2="353.60" stroke="#555" stroke-width="0.7" />
<line x1="455.18" y1="18.30" x2="455.18" y2="20.30" stroke="#555" stroke-width="0.7" />
<line x1="455.18" y1="128.40" x2="455.18" y2="132.40" stroke="#555" stroke-width="0.7" />
<line x1="455.18" y1="240.60" x2="455.18" y2="244.60" stroke="#555" stroke-width="0.7" />
<line x1="455.18" y1="351.60" x2="455.18" y2="353.60" stroke="#555" stroke-width="0.7" />
<line x1="482.97" y1="18.30" x2="482.97" y2="20.30" stroke="#555" stroke-width="0.7" />
<line x1="482.97" y1="128.40" x2="482.97" y2="132.40" stroke="#555" stroke-width="0.7" />
<line x1="482.97" y1="240.60" x2="482.97" y2="244.60" stroke="#555" stroke-width="0.7" />
<line x1="482.97" y1="351.60" x2="482.97" y2="353.60" stroke="#555" stroke-width="0.7" />
<line x1="510.76" y1="18.30" x2="510.76" y2="20.30" stroke="#555" stroke-width="0.7" />
<line x1="510.76" y1="128.40" x2="510.76" y2="132.40" stroke="#555" stroke-width="0.7" />
<line x1="510.76" y1="240.60" x2="510.76" y2="244.60" stroke="#555" stroke-width="0.7" />
<line x1="510.76" y1="351.60" x2="510.76" y2="353.60" stroke="#555" stroke-width="0.7" />
<line x1="538.55" y1="18.30" x2="538.55" y2="20.30" stroke="#555" stroke-width="0.7" />
<line x1="538.55" y1="128.40" x2="538.55" y2="132.40" stroke="#555" stroke-width="0.7" />
<line x1="538.55" y1="240.60" x2="538.55" y2="244.60" stroke="#555" stroke-width="0.7" />
<line x1="538.55" y1="351.60" x2="538.55" y2="353.60" stroke="#555" stroke-width="0.7" />
<line x1="566.34" y1="18.30" x2="566.34" y2="20.30" stroke="#555" stroke-width="0.7" />
<line x1="566.34" y1="128.40" x2="566.34" y2="132.40" stroke="#555" stroke-width="0.7" />
<line x1="566.34" y1="240.60" x2="566.34" y2="244.60" stroke="#555" stroke-width="0.7" />
<line x1="566.34" y1="351.60" x2="566.34" y2="353.60" stroke="#555" stroke-width="0.7" />
<line x1="594.13" y1="18.30" x2="594.13" y2="20.30" stroke="#555" stroke-width="0.7" />
<line x1="594.13" y1="128.40" x2="594.13" y2="132.40" stroke="#555" stroke-width="0.7" />
<line x1="594.13" y1="240.60" x2="594.13" y2="244.60" stroke="#555" stroke-width="0.7" />
<line x1="594.13" y1="351.60" x2="594.13" y2="353.60" stroke="#555" stroke-width="0.7" />
<line x1="621.92" y1="18.30" x2="621.92" y2="20.30" stroke="#555" stroke-width="0.7" />
<line x1="621.92" y1="128.40" x2="621.92" y2="132.40" stroke="#555" stroke-width="0.7" />
<line x1="621.92" y1="240.60" x2="621.92" y2="244.60" stroke="#555" stroke-width="0.7" />
<line x1="621.92" y1="351.60" x2="621.92" y2="353.60" stroke="#555" stroke-width="0.7" />
<line x1="649.71" y1="18.30" x2="649.71" y2="20.30" stroke="#555" stroke-width="0.7" />
<line x1="649.71" y1="128.40" x2="649.71" y2="132.40" stroke="#555" stroke-width="0.7" />
<line x1="649.71" y1="240.60" x2="649.71" y2="244.60" stroke="#555" stroke-width="0.7" />
<line x1="649.71" y1="351.60" x2="649.71" y2="353.60" stroke="#555" stroke-width="0.7" />
<line x1="399.60" y1="18.30" x2="402.60" y2="18.30" stroke="#555" stroke-width="0.7" />
<line x1="674.50" y1="18.30" x2="677.50" y2="18.30" stroke="#555" stroke-width="0.7" />
<line x1="399.60" y1="29.51" x2="401.40" y2="29.51" stroke="#555" stroke-width="0.7" />
<line x1="675.70" y1="29.51" x2="677.50" y2="29.51" stroke="#555" stroke-width="0.7" />
<line x1="399.60" y1="40.72" x2="402.60" y2="40.72" stroke="#555" stroke-width="0.7" />
<line x1="674.50" y1="40.72" x2="677.50" y2="40.72" stroke="#555" stroke-width="0.7" />
<line x1="399.60" y1="51.93" x2="401.40" y2="51.93" stroke="#555" stroke-width="0.7" />
<line x1="675.70" y1="51.93" x2="677.50" y2="51.93" stroke="#555" stroke-width="0.7" />
<line x1="399.60" y1="63.14" x2="402.60" y2="63.14" stroke="#555" stroke-width="0.7" />
<line x1="674.50" y1="63.14" x2="677.50" y2="63.14" stroke="#555" stroke-width="0.7" />
<line x1="399.60" y1="74.35" x2="401.40" y2="74.35" stroke="#555" stroke-width="0.7" />
<line x1="675.70" y1="74.35" x2="677.50" y2="74.35" stroke="#555" stroke-width="0.7" />
<line x1="399.60" y1="85.56" x2="402.60" y2="85.56" stroke="#555" stroke-width="0.7" />
<line x1="674.50" y1="85.56" x2="677.50" y2="85.56" stroke="#555" stroke-width="0.7" />
<line x1="399.60" y1="96.77" x2="401.40" y2="96.77" stroke="#555" stroke-width="0.7" />
<line x1="675.70" y1="96.77" x2="677.50" y2="96.77" stroke="#555" stroke-width="0.7" />
<line x1="399.60" y1="107.98" x2="402.60" y2="107.98" stroke="#555" stroke-width="0.7" />
<line x1="674.50" y1="107.98" x2="677.50" y2="107.98" stroke="#555" stroke-width="0.7" />
<line x1="399.60" y1="119.19" x2="401.40" y2="119.19" stroke="#555" stroke-width="0.7" />
<line x1="675.70" y1="119.19" x2="677.50" y2="119.19" stroke="#555" stroke-width="0.7" />
<line x1="399.60" y1="130.40" x2="402.60" y2="130.40" stroke="#555" stroke-width="0.7" />
<line x1="674.50" y1="130.40" x2="677.50" y2="130.40" stroke="#555" stroke-width="0.7" />
<line x1="399.60" y1="130.40" x2="402.60" y2="130.40" stroke="#555" stroke-width="0.7" />
<line x1="674.50" y1="130.40" x2="677.50" y2="130.40" stroke="#555" stroke-width="0.7" />
<line x1="399.60" y1="141.62" x2="401.40" y2="141.62" stroke="#555" stroke-width="0.7" />
<line x1="675.70" y1="141.62" x2="677.50" y2="141.62" stroke="#555" stroke-width="0.7" />
<line x1="399.60" y1="152.84" x2="402.60" y2="152.84" stroke="#555" stroke-width="0.7" />
<line x1="674.50" y1="152.84" x2="677.50" y2="152.84" stroke="#555" stroke-width="0.7" />
<line x1="399.60" y1="164.06" x2="401.40" y2="164.06" stroke="#555" stroke-width="0.7" />
<line x1="675.70" y1="164.06" x2="677.50" y2="164.06" stroke="#555" stroke-width="0.7" />
<line x1="399.60" y1="175.28" x2="402.60" y2="175.28" stroke="#555" stroke-width="0.7" />
<line x1="674.50" y1="175.28" x2="677.50" y2="175.28" stroke="#555" stroke-width="0.7" />
<line x1="399.60" y1="186.50" x2="401.40" y2="186.50" stroke="#555" stroke-width="0.7" />
<line x1="675.70" y1="186.50" x2="677.50" y2="186.50" stroke="#555" stroke-width="0.7" />
<line x1="399.60" y1="197.72" x2="402.60" y2="197.72" stroke="#555" stroke-width="0.7" />
<line x1="674.50" y1="197.72" x2="677.50" y2="197.72" stroke="#555" stroke-width="0.7" />
<line x1="399.60" y1="208.94" x2="401.40" y2="208.94" stroke="#555" stroke-width="0.7" />
<line x1="675.70" y1="208.94" x2="677.50" y2="208.94" stroke="#555" stroke-width="0.7" />
<line x1="399.60" y1="220.16" x2="402.60" y2="220.16" stroke="#555" stroke-width="0.7" />
<line x1="674.50" y1="220.16" x2="677.50" y2="220.16" stroke="#555" stroke-width="0.7" />
<line x1="399.60" y1="231.38" x2="401.40" y2="231.38" stroke="#555" stroke-width="0.7" />
<line x1="675.70" y1="231.38" x2="677.50" y2="231.38" stroke="#555" stroke-width="0.7" />
<line x1="399.60" y1="242.60" x2="402.60" y2="242.60" stroke="#555" stroke-width="0.7" />
<line x1="674.50" y1="242.60" x2="677.50" y2="242.60" stroke="#555" stroke-width="0.7" />
<line x1="399.60" y1="242.60" x2="402.60" y2="242.60" stroke="#555" stroke-width="0.7" />
<line x1="674.50" y1="242.60" x2="677.50" y2="242.60" stroke="#555" stroke-width="0.7" />
<line x1="399.60" y1="253.66" x2="401.40" y2="253.66" stroke="#555" stroke-width="0.7" />
<line x1="675.70" y1="253.66" x2="677.50" y2="253.66" stroke="#555" stroke-width="0.7" />
<line x1="399.60" y1="264.72" x2="402.60" y2="264.72" stroke="#555" stroke-width="0.7" />
<line x1="674.50" y1="264.72" x2="677.50" y2="264.72" stroke="#555" stroke-width="0.7" />
<line x1="399.60" y1="275.78" x2="401.40" y2="275.78" stroke="#555" stroke-width="0.7" />
<line x1="675.70" y1="275.78" x2="677.50" y2="275.78" stroke="#555" stroke-width="0.7" />
<line x1="399.60" y1="286.84" x2="402.60" y2="286.84" stroke="#555" stroke-width="0.7" />
<line x1="674.50" y1="286.84" x2="677.50" y2="286.84" stroke="#555" stroke-width="0.7" />
<line x1="399.60" y1="297.90" x2="401.40" y2="297.90" stroke="#555" stroke-width="0.7" />
<line x1="675.70" y1="297.90" x2="677.50" y2="297.90" stroke="#555" stroke-width="0.7" />
<line x1="399.60" y1="308.96" x2="402.60" y2="308.96" stroke="#555" stroke-width="0.7" />
<line x1="674.50" y1="308.96" x2="677.50" y2="308.96" stroke="#555" stroke-width="0.7" />
<line x1="399.60" y1="320.02" x2="401.40" y2="320.02" stroke="#555" stroke-width="0.7" />
<line x1="675.70" y1="320.02" x2="677.50" y2="320.02" stroke="#555" stroke-width="0.7" />
<line x1="399.60" y1="331.08" x2="402.60" y2="331.08" stroke="#555" stroke-width="0.7" />
<line x1="674.50" y1="331.08" x2="677.50" y2="331.08" stroke="#555" stroke-width="0.7" />
<line x1="399.60" y1="342.14" x2="401.40" y2="342.14" stroke="#555" stroke-width="0.7" />
<line x1="675.70" y1="342.14" x2="677.50" y2="342.14" stroke="#555" stroke-width="0.7" />
<line x1="399.60" y1="353.20" x2="402.60" y2="353.20" stroke="#555" stroke-width="0.7" />
<line x1="674.50" y1="353.20" x2="677.50" y2="353.20" stroke="#555" stroke-width="0.7" />
<line x1="400.10" y1="353.10" x2="677.50" y2="353.10" stroke="#ff2a2a" stroke-width="1.1" stroke-dasharray="1.6 1.22"/>
<text x="54.90" y="24.60" font-size="12.8" text-anchor="end" fill="#1e1e1e" stroke="#1e1e1e" stroke-width="0.25" >1.5</text>
<text x="54.90" y="61.40" font-size="12.8" text-anchor="end" fill="#1e1e1e" stroke="#1e1e1e" stroke-width="0.25" >1.0</text>
<text x="54.90" y="96.80" font-size="12.8" text-anchor="end" fill="#1e1e1e" stroke="#1e1e1e" stroke-width="0.25" >0.5</text>
<text x="54.90" y="136.20" font-size="12.8" text-anchor="end" fill="#1e1e1e" stroke="#1e1e1e" stroke-width="0.25" >2500</text>
<text x="54.90" y="159.10" font-size="12.8" text-anchor="end" fill="#1e1e1e" stroke="#1e1e1e" stroke-width="0.25" >2000</text>
<text x="54.90" y="181.30" font-size="12.8" text-anchor="end" fill="#1e1e1e" stroke="#1e1e1e" stroke-width="0.25" >1500</text>
<text x="54.90" y="203.40" font-size="12.8" text-anchor="end" fill="#1e1e1e" stroke="#1e1e1e" stroke-width="0.25" >1000</text>
<text x="54.90" y="225.50" font-size="12.8" text-anchor="end" fill="#1e1e1e" stroke="#1e1e1e" stroke-width="0.25" >500</text>
<text x="54.90" y="247.30" font-size="12.8" text-anchor="end" fill="#1e1e1e" stroke="#1e1e1e" stroke-width="0.25" >40</text>
<text x="54.90" y="274.60" font-size="12.8" text-anchor="end" fill="#1e1e1e" stroke="#1e1e1e" stroke-width="0.25" >30</text>
<text x="54.90" y="302.30" font-size="12.8" text-anchor="end" fill="#1e1e1e" stroke="#1e1e1e" stroke-width="0.25" >20</text>
<text x="54.90" y="329.90" font-size="12.8" text-anchor="end" fill="#1e1e1e" stroke="#1e1e1e" stroke-width="0.25" >10</text>
<text x="54.90" y="356.20" font-size="12.8" text-anchor="end" fill="#1e1e1e" stroke="#1e1e1e" stroke-width="0.25" >0</text>
<text x="397.00" y="23.00" font-size="12.8" text-anchor="end" fill="#1e1e1e" stroke="#1e1e1e" stroke-width="0.25" >0.25</text>
<text x="397.00" y="45.50" font-size="12.8" text-anchor="end" fill="#1e1e1e" stroke="#1e1e1e" stroke-width="0.25" >0.2</text>
<text x="397.00" y="67.50" font-size="12.8" text-anchor="end" fill="#1e1e1e" stroke="#1e1e1e" stroke-width="0.25" >0.15</text>
<text x="397.00" y="89.50" font-size="12.8" text-anchor="end" fill="#1e1e1e" stroke="#1e1e1e" stroke-width="0.25" >0.1</text>
<text x="397.00" y="111.80" font-size="12.8" text-anchor="end" fill="#1e1e1e" stroke="#1e1e1e" stroke-width="0.25" >0.05</text>
<text x="397.00" y="137.50" font-size="12.8" text-anchor="end" fill="#1e1e1e" stroke="#1e1e1e" stroke-width="0.25" >2500</text>
<text x="397.00" y="159.30" font-size="12.8" text-anchor="end" fill="#1e1e1e" stroke="#1e1e1e" stroke-width="0.25" >2000</text>
<text x="397.00" y="180.80" font-size="12.8" text-anchor="end" fill="#1e1e1e" stroke="#1e1e1e" stroke-width="0.25" >1500</text>
<text x="397.00" y="203.20" font-size="12.8" text-anchor="end" fill="#1e1e1e" stroke="#1e1e1e" stroke-width="0.25" >1000</text>
<text x="397.00" y="225.40" font-size="12.8" text-anchor="end" fill="#1e1e1e" stroke="#1e1e1e" stroke-width="0.25" >500</text>
<text x="397.00" y="250.40" font-size="12.8" text-anchor="end" fill="#1e1e1e" stroke="#1e1e1e" stroke-width="0.25" >1000</text>
<text x="397.00" y="271.60" font-size="12.8" text-anchor="end" fill="#1e1e1e" stroke="#1e1e1e" stroke-width="0.25" >800</text>
<text x="397.00" y="293.40" font-size="12.8" text-anchor="end" fill="#1e1e1e" stroke="#1e1e1e" stroke-width="0.25" >600</text>
<text x="397.00" y="314.50" font-size="12.8" text-anchor="end" fill="#1e1e1e" stroke="#1e1e1e" stroke-width="0.25" >400</text>
<text x="397.00" y="336.60" font-size="12.8" text-anchor="end" fill="#1e1e1e" stroke="#1e1e1e" stroke-width="0.25" >200</text>
<text x="397.00" y="357.00" font-size="12.8" text-anchor="end" fill="#1e1e1e" stroke="#1e1e1e" stroke-width="0.25" >0</text>
<text x="55.40" y="364.90" font-size="12.8" text-anchor="middle" fill="#1e1e1e" stroke="#1e1e1e" stroke-width="0.25" >0</text>
<text x="113.20" y="364.90" font-size="12.8" text-anchor="middle" fill="#1e1e1e" stroke="#1e1e1e" stroke-width="0.25" >0.2</text>
<text x="166.70" y="364.90" font-size="12.8" text-anchor="middle" fill="#1e1e1e" stroke="#1e1e1e" stroke-width="0.25" >0.4</text>
<text x="223.40" y="364.90" font-size="12.8" text-anchor="middle" fill="#1e1e1e" stroke="#1e1e1e" stroke-width="0.25" >0.6</text>
<text x="276.80" y="364.90" font-size="12.8" text-anchor="middle" fill="#1e1e1e" stroke="#1e1e1e" stroke-width="0.25" >0.8</text>
<text x="334.00" y="364.90" font-size="12.8" text-anchor="middle" fill="#1e1e1e" stroke="#1e1e1e" stroke-width="0.25" >1.0</text>
<text x="397.50" y="364.60" font-size="12.8" text-anchor="middle" fill="#1e1e1e" stroke="#1e1e1e" stroke-width="0.25" >0</text>
<text x="456.80" y="364.60" font-size="12.8" text-anchor="middle" fill="#1e1e1e" stroke="#1e1e1e" stroke-width="0.25" >0.2</text>
<text x="510.50" y="364.60" font-size="12.8" text-anchor="middle" fill="#1e1e1e" stroke="#1e1e1e" stroke-width="0.25" >0.4</text>
<text x="567.00" y="364.60" font-size="12.8" text-anchor="middle" fill="#1e1e1e" stroke="#1e1e1e" stroke-width="0.25" >0.6</text>
<text x="620.50" y="364.60" font-size="12.8" text-anchor="middle" fill="#1e1e1e" stroke="#1e1e1e" stroke-width="0.25" >0.8</text>
<text x="677.50" y="364.60" font-size="12.8" text-anchor="middle" fill="#1e1e1e" stroke="#1e1e1e" stroke-width="0.25" >1.0</text>
<text x="155.00" y="382.80" font-size="13.7" text-anchor="start" fill="#1e1e1e" stroke="#1e1e1e" stroke-width="0.25" textLength="66.8" lengthAdjust="spacingAndGlyphs" >Probability</text>
<text x="498.50" y="382.80" font-size="13.7" text-anchor="start" fill="#1e1e1e" stroke="#1e1e1e" stroke-width="0.25" textLength="66.8" lengthAdjust="spacingAndGlyphs" >Probability</text>
<text x="101.40" y="11.80" font-size="14.6" text-anchor="start" fill="#1e1e1e" stroke="#1e1e1e" stroke-width="0.25" textLength="96.0" lengthAdjust="spacingAndGlyphs" >Pseudo-ternary</text>
<text x="201.80" y="11.80" font-size="14.6" text-anchor="start" fill="#1e1e1e" stroke="#1e1e1e" stroke-width="0.25" textLength="83.3" lengthAdjust="spacingAndGlyphs" >compositions</text>
<text x="435.60" y="10.50" font-size="14.6" text-anchor="start" fill="#1e1e1e" stroke="#1e1e1e" stroke-width="0.25" textLength="118.2" lengthAdjust="spacingAndGlyphs" >Pseudo-quaternary</text>
<text x="558.50" y="10.50" font-size="14.6" text-anchor="start" fill="#1e1e1e" stroke="#1e1e1e" stroke-width="0.25" textLength="83.7" lengthAdjust="spacingAndGlyphs" >compositions</text>
<text x="65.60" y="39.80" font-size="14.4" text-anchor="start" fill="#1e1e1e" stroke="#1e1e1e" stroke-width="0.25" textLength="27.4" lengthAdjust="spacingAndGlyphs" >ICSD</text>
<text x="97.90" y="39.80" font-size="14.4" text-anchor="start" fill="#1e1e1e" stroke="#1e1e1e" stroke-width="0.25" textLength="83.1" lengthAdjust="spacingAndGlyphs" >compositions</text>
<text x="408.30" y="36.70" font-size="14.4" text-anchor="start" fill="#1e1e1e" stroke="#1e1e1e" stroke-width="0.25" textLength="27.4" lengthAdjust="spacingAndGlyphs" >ICSD</text>
<text x="440.60" y="36.70" font-size="14.4" text-anchor="start" fill="#1e1e1e" stroke="#1e1e1e" stroke-width="0.25" textLength="83.1" lengthAdjust="spacingAndGlyphs" >compositions</text>
<text x="174.50" y="150.20" font-size="14.4" text-anchor="start" fill="#1e1e1e" stroke="#1e1e1e" stroke-width="0.25" textLength="24.9" lengthAdjust="spacingAndGlyphs" >Non</text>
<text x="204.40" y="150.20" font-size="14.4" text-anchor="start" fill="#1e1e1e" stroke="#1e1e1e" stroke-width="0.25" textLength="27.2" lengthAdjust="spacingAndGlyphs" >ICSD</text>
<text x="236.40" y="150.20" font-size="14.4" text-anchor="start" fill="#1e1e1e" stroke="#1e1e1e" stroke-width="0.25" textLength="83.3" lengthAdjust="spacingAndGlyphs" >compositions</text>
<text x="520.30" y="149.60" font-size="14.4" text-anchor="start" fill="#1e1e1e" stroke="#1e1e1e" stroke-width="0.25" textLength="24.9" lengthAdjust="spacingAndGlyphs" >Non</text>
<text x="550.20" y="149.60" font-size="14.4" text-anchor="start" fill="#1e1e1e" stroke="#1e1e1e" stroke-width="0.25" textLength="27.2" lengthAdjust="spacingAndGlyphs" >ICSD</text>
<text x="582.20" y="149.60" font-size="14.4" text-anchor="start" fill="#1e1e1e" stroke="#1e1e1e" stroke-width="0.25" textLength="83.3" lengthAdjust="spacingAndGlyphs" >compositions</text>
<text x="67.60" y="342.10" font-size="12.6" text-anchor="start" fill="#ff2a2a" stroke="#ff2a2a" stroke-width="0.25" textLength="46.6" lengthAdjust="spacingAndGlyphs" >Random</text>
<text x="118.10" y="342.10" font-size="12.6" text-anchor="start" fill="#ff2a2a" stroke="#ff2a2a" stroke-width="0.25" textLength="52.8" lengthAdjust="spacingAndGlyphs" >Sampling</text>
<text x="409.60" y="341.90" font-size="12.6" text-anchor="start" fill="#ff2a2a" stroke="#ff2a2a" stroke-width="0.25" textLength="46.6" lengthAdjust="spacingAndGlyphs" >Random</text>
<text x="460.10" y="341.90" font-size="12.6" text-anchor="start" fill="#ff2a2a" stroke="#ff2a2a" stroke-width="0.25" textLength="52.8" lengthAdjust="spacingAndGlyphs" >Sampling</text>
<text x="16.90" y="196.80" font-size="14.3" text-anchor="start" fill="#1e1e1e" stroke="#1e1e1e" stroke-width="0.25" textLength="20.7" lengthAdjust="spacingAndGlyphs" transform="rotate(-90 16.90 196.80)" ># of</text>
<text x="16.90" y="171.00" font-size="14.3" text-anchor="start" fill="#1e1e1e" stroke="#1e1e1e" stroke-width="0.25" textLength="84.1" lengthAdjust="spacingAndGlyphs" transform="rotate(-90 16.90 171.00)" >compositions</text>
<text x="16.90" y="81.50" font-size="14.3" text-anchor="start" fill="#1e1e1e" stroke="#1e1e1e" stroke-width="0.25" textLength="38.2" lengthAdjust="spacingAndGlyphs" transform="rotate(-90 16.90 81.50)" >(×10<tspan font-size="9" dy="-5.4">3</tspan><tspan dy="5.4">)</tspan></text>
<text x="359.30" y="196.70" font-size="14.3" text-anchor="start" fill="#1e1e1e" stroke="#1e1e1e" stroke-width="0.25" textLength="20.5" lengthAdjust="spacingAndGlyphs" transform="rotate(-90 359.30 196.70)" ># of</text>
<text x="359.30" y="171.20" font-size="14.3" text-anchor="start" fill="#1e1e1e" stroke="#1e1e1e" stroke-width="0.25" textLength="84.0" lengthAdjust="spacingAndGlyphs" transform="rotate(-90 359.30 171.20)" >compositions</text>
<text x="359.30" y="81.90" font-size="14.3" text-anchor="start" fill="#1e1e1e" stroke="#1e1e1e" stroke-width="0.25" textLength="38.2" lengthAdjust="spacingAndGlyphs" transform="rotate(-90 359.30 81.90)" >(×10<tspan font-size="9" dy="-5.4">3</tspan><tspan dy="5.4">)</tspan></text>
<text x="11.20" y="355.20" font-size="14.3" text-anchor="start" fill="#1e1e1e" stroke="#1e1e1e" stroke-width="0.25" textLength="31.0" lengthAdjust="spacingAndGlyphs" transform="rotate(-90 11.20 355.20)" >ICSD</text>
<text x="11.20" y="320.00" font-size="14.3" text-anchor="start" fill="#1e1e1e" stroke="#1e1e1e" stroke-width="0.25" textLength="86.8" lengthAdjust="spacingAndGlyphs" transform="rotate(-90 11.20 320.00)" >Composition</text>
<text x="29.70" y="332.30" font-size="14.3" text-anchor="start" fill="#1e1e1e" stroke="#1e1e1e" stroke-width="0.25" textLength="76.3" lengthAdjust="spacingAndGlyphs" transform="rotate(-90 29.70 332.30)" >Enrichment</text>
<text x="354.30" y="355.50" font-size="14.3" text-anchor="start" fill="#1e1e1e" stroke="#1e1e1e" stroke-width="0.25" textLength="31.0" lengthAdjust="spacingAndGlyphs" transform="rotate(-90 354.30 355.50)" >ICSD</text>
<text x="354.30" y="320.40" font-size="14.3" text-anchor="start" fill="#1e1e1e" stroke="#1e1e1e" stroke-width="0.25" textLength="86.2" lengthAdjust="spacingAndGlyphs" transform="rotate(-90 354.30 320.40)" >Composition</text>
<text x="373.10" y="333.20" font-size="14.3" text-anchor="start" fill="#1e1e1e" stroke="#1e1e1e" stroke-width="0.25" textLength="77.4" lengthAdjust="spacingAndGlyphs" transform="rotate(-90 373.10 333.20)" >Enrichment</text>
</svg>
</body></html>
